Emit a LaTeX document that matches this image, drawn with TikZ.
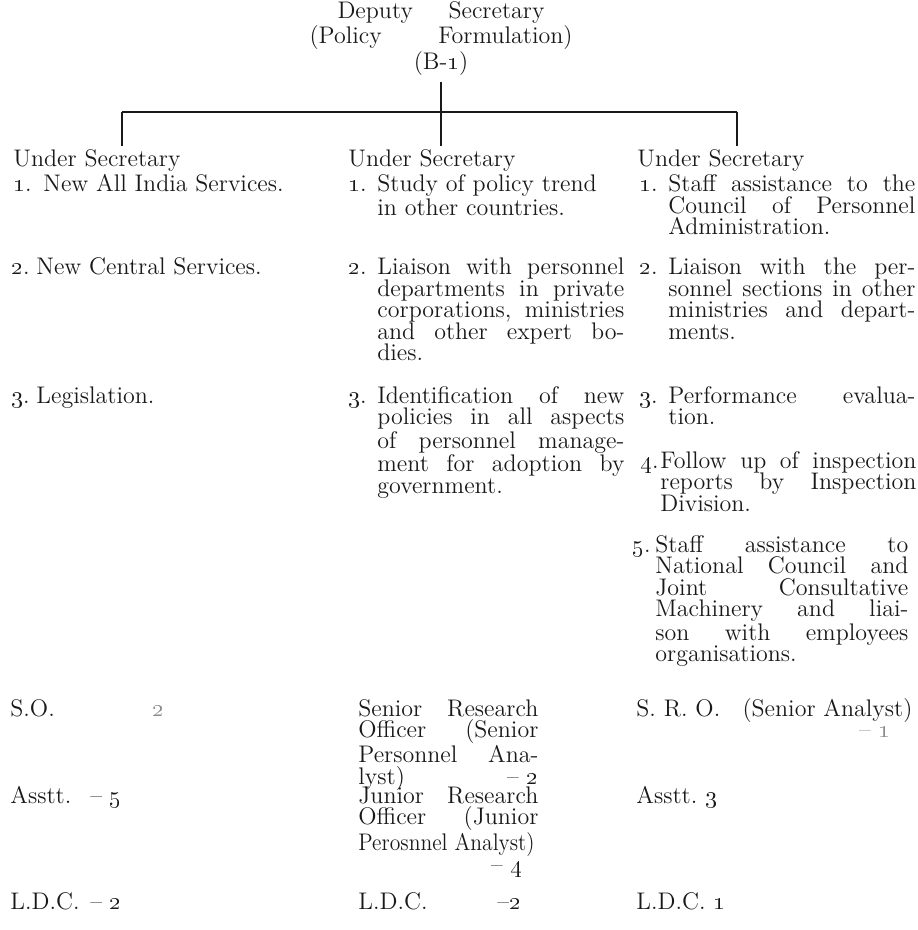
\documentclass[tikz,border=0pt]{standalone}
\usepackage{tikz}
\usepackage{xcolor}
\usepackage{graphicx}
\definecolor{ink}{gray}{0.1}
\definecolor{faint}{gray}{0.55}
\newcommand{\chartfont}{\fontsize{12}{10.75}\selectfont}
\newcommand{\osn}[1]{\oldstylenums{#1}}
\newcommand{\jl}[1]{\makebox[\linewidth][s]{#1}}
\newcommand{\hang}[3][14.5pt]{\makebox[#1][l]{#2}\parbox[t]{\dimexpr 138pt-#1\relax}{#3}}

\begin{document}
\begin{tikzpicture}[x=0.5pt,y=-0.5pt,
		txt/.style={anchor=base west,inner sep=0pt,font=\chartfont,text=ink},
		link/.style={draw=ink,line width=0.6pt}]
	\useasboundingbox (0,0) rectangle (917,930);
	
	% Head
	\node[txt,anchor=base] (head) at (441,19) {\parbox[t]{140pt}{\centering
			\makebox[103.5pt][s]{Deputy Secretary}\\
			\makebox[131.5pt][s]{(Policy Formulation)}\\
			(B-\osn{1})}};
	
	% Under secretaries
	\node[txt] (usL) at (13,167) {Under Secretary};
	\node[txt] (usM) at (348,167) {Under Secretary};
	\node[txt] (usR) at (637,167) {Under Secretary};
	
	% Branch lines
	\coordinate (barL) at (122,112);
	\coordinate (barR) at (737,112);
	\draw[link] (barL) -- (barR);
	\draw[link,shorten <=3pt,shorten >=2pt] (head.south) -- (head.south |- usM.north);
	\draw[link,shorten >=2pt] (barL) -- (barL |- usL.north);
	\draw[link,shorten >=2pt] (barR) -- (barR |- usR.north);
	
	% Left column
	\node[txt] (l1) at (13,192) {\hang[15pt]{\osn{1}.}{New All India Services.}};
	\node[txt] (l2) at (11,275) {\hang[12.5pt]{\osn{2}.}{New Central Services.}};
	\node[txt] (l3) at (11,403) {\hang[12.5pt]{\osn{3}.}{Legislation.}};
	
	% Middle column
	\node[txt] (m1) at (348,192) {\hang{\osn{1}.}{Study of policy trend\\ in other countries.}};
	\node[txt] (m2) at (348,275) {\hang{\osn{2}.}{\jl{Liaison with personnel}\\
			\jl{departments in private}\\ \jl{corporations, ministries}\\
			\jl{and other expert bo-}\\ dies.}};
	\node[txt] (m3) at (348,403) {\hang{\osn{3}.}{\jl{Identification of new}\\
			\jl{policies in all aspects}\\ \jl{of personnel manage-}\\
			\jl{ment for adoption by}\\ government.}};
	
	% Right column
	\node[txt] (r1) at (639,192) {\hang{\osn{1}.}{\jl{Staff assistance to the}\\
			\jl{Council of Personnel}\\ Administration.}};
	\node[txt] (r2) at (639,275) {\hang{\osn{2}.}{\jl{Liaison with the per-}\\
			\jl{sonnel sections in other}\\ \jl{ministries and depart-}\\ ments.}};
	\node[txt] (r3) at (639,403) {\hang{\osn{3}.}{\jl{Performance evalua-}\\ tion.}};
	\node[txt] (r4) at (640,468) {\hang[10pt]{\osn{4}.}{\jl{Follow up of inspection}\\
			\jl{reports by Inspection}\\ Division.}};
	\node[txt] (r5) at (632,552) {\hang[11.5pt]{\osn{5}.}{\jl{Staff assistance to}\\
			\jl{National Council and}\\ \jl{Joint Consultative}\\
			\jl{Machinery and liai-}\\ \jl{son with employees}\\ organisations.}};
	
	% Staff
	\node[txt] (soL) at (10,716) {S.O.};
	\node[txt,text=faint] (so2) at (152,716) {\osn{2}};
	\node[txt] (sroM) at (358,716) {\parbox[t]{90pt}{\jl{Senior Research}\\
			\jl{Officer (Senior}\\ \jl{Personnel Ana-}\\ lyst)\hfill--~\osn{2}}};
	\node[txt] (sroR) at (636,716) {\parbox[t]{138pt}{S.~R.~O.\hfill(Senior Analyst)\\
			\hspace*{\fill}{\color{faint}--~\osn{1}}\hspace*{11pt}}};
	
	\node[txt] (asL) at (10,803) {\makebox[40pt][l]{Asstt.}--~\osn{5}};
	\node[txt] (jroM) at (358,803) {\parbox[t]{90pt}{\jl{Junior Research}\\
			\jl{Officer (Junior}\\ \scalebox{0.9}[1]{Perosnnel Analyst)}\\
			\hspace*{\fill}--~\osn{4}\hspace*{8pt}}};
	\node[txt] (asR) at (636,803) {Asstt.\ \osn{3}};
	
	\node[txt] (ldcL) at (10,909) {\makebox[40pt][l]{L.D.C.}--~\osn{2}};
	\node[txt] (ldcM) at (358,909) {\makebox[69.5pt][l]{L.D.C.}--\osn{2}};
	\node[txt] (ldcR) at (636,909) {L.D.C.\ \osn{1}};
\end{tikzpicture}
\end{document}
